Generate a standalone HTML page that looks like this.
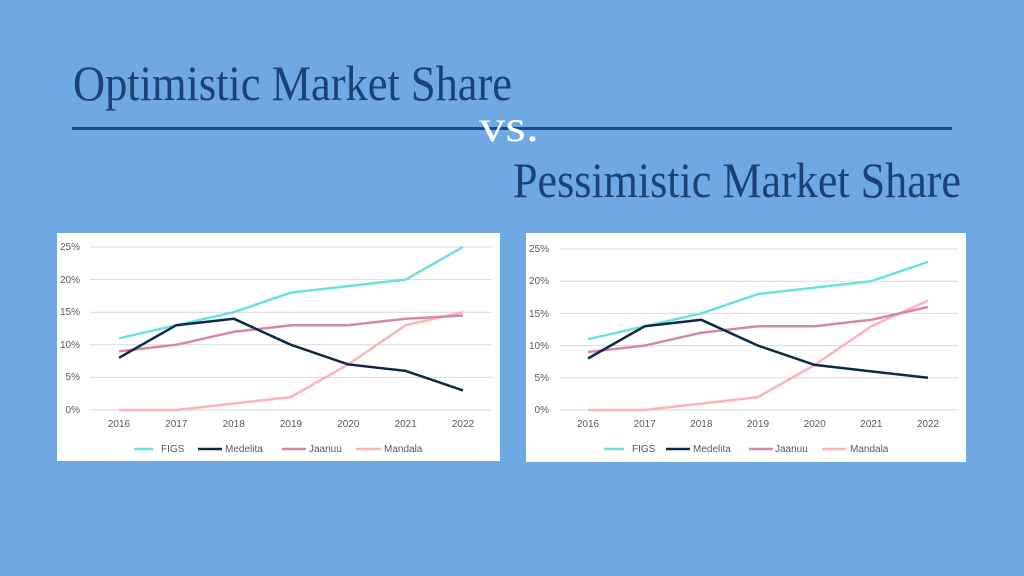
<!DOCTYPE html>
<html><head><meta charset="utf-8"><style>
html,body{margin:0;padding:0;background:#6fa9e4;}
svg{display:block}
</style></head><body>
<svg width="1024" height="576" viewBox="0 0 1024 576" xmlns="http://www.w3.org/2000/svg">
<rect width="1024" height="576" fill="#6fa9e4"/>
<text x="73" y="100" font-family="Liberation Serif, serif" font-size="50" fill="#1a4274" textLength="439" lengthAdjust="spacingAndGlyphs">Optimistic Market Share</text>
<rect x="72" y="127" width="880" height="3" fill="#1b4a80"/>
<text x="479" y="141" font-family="Liberation Serif, serif" font-size="44" fill="#ffffff" textLength="60" lengthAdjust="spacingAndGlyphs">vs.</text>
<text x="513" y="197" font-family="Liberation Serif, serif" font-size="50" fill="#1a4274" textLength="448" lengthAdjust="spacingAndGlyphs">Pessimistic Market Share</text>

<g font-family="Liberation Sans, sans-serif" font-size="10" fill="#595959">
<!-- left chart -->
<rect x="57" y="233" width="443" height="228" fill="#fff"/>
<g stroke="#d9d9d9" stroke-width="1">
<line x1="90" x2="492" y1="247" y2="247"/><line x1="90" x2="492" y1="279.6" y2="279.6"/><line x1="90" x2="492" y1="312.2" y2="312.2"/><line x1="90" x2="492" y1="344.8" y2="344.8"/><line x1="90" x2="492" y1="377.4" y2="377.4"/><line x1="90" x2="492" y1="410" y2="410"/>
</g>
<g text-anchor="end"><text x="80" y="250">25%</text><text x="80" y="283">20%</text><text x="80" y="315">15%</text><text x="80" y="348">10%</text><text x="80" y="380">5%</text><text x="80" y="413">0%</text></g>
<g text-anchor="middle"><text x="119" y="427">2016</text><text x="176.3" y="427">2017</text><text x="233.7" y="427">2018</text><text x="291" y="427">2019</text><text x="348.3" y="427">2020</text><text x="405.7" y="427">2021</text><text x="463" y="427">2022</text></g>
<g fill="none" stroke-width="2.5" stroke-linejoin="round">
<polyline stroke="#6ee0e2" points="119,338.3 176.3,325.2 233.7,312.2 291,292.6 348.3,286.1 405.7,279.6 463,247"/>
<polyline stroke="#ffb3b8" points="119,410 176.3,410 233.7,403.5 291,397 348.3,364.4 405.7,325.2 463,312.2"/>
<polyline stroke="#d38aa7" points="119,351.3 176.3,344.8 233.7,331.8 291,325.2 348.3,325.2 405.7,318.7 463,315.5"/>
<polyline stroke="#0f2a47" points="119,357.8 176.3,325.2 233.7,318.7 291,344.8 348.3,364.4 405.7,370.9 463,390.4"/>
</g>
<g stroke-width="2.5"><line x1="134" x2="153" y1="449" y2="449" stroke="#6ee0e2"/><line x1="198" x2="222" y1="449" y2="449" stroke="#0f2a47"/><line x1="282" x2="306" y1="449" y2="449" stroke="#d38aa7"/><line x1="356" x2="381" y1="449" y2="449" stroke="#ffb3b8"/></g>
<text x="161" y="452">FIGS</text><text x="225" y="452">Medelita</text><text x="309" y="452">Jaanuu</text><text x="384" y="452">Mandala</text>

<!-- right chart -->
<rect x="526" y="233" width="440" height="229" fill="#fff"/>
<g stroke="#d9d9d9" stroke-width="1">
<line x1="560" x2="958" y1="249" y2="249"/><line x1="560" x2="958" y1="281.2" y2="281.2"/><line x1="560" x2="958" y1="313.4" y2="313.4"/><line x1="560" x2="958" y1="345.6" y2="345.6"/><line x1="560" x2="958" y1="377.8" y2="377.8"/><line x1="560" x2="958" y1="410" y2="410"/>
</g>
<g text-anchor="end"><text x="549" y="252">25%</text><text x="549" y="284">20%</text><text x="549" y="317">15%</text><text x="549" y="349">10%</text><text x="549" y="381">5%</text><text x="549" y="413">0%</text></g>
<g text-anchor="middle"><text x="588" y="427">2016</text><text x="644.7" y="427">2017</text><text x="701.3" y="427">2018</text><text x="758" y="427">2019</text><text x="814.7" y="427">2020</text><text x="871.3" y="427">2021</text><text x="928" y="427">2022</text></g>
<g fill="none" stroke-width="2.5" stroke-linejoin="round">
<polyline stroke="#6ee0e2" points="588,339.2 644.7,326.3 701.3,313.4 758,294.1 814.7,287.6 871.3,281.2 928,261.9"/>
<polyline stroke="#ffb3b8" points="588,410 644.7,410 701.3,403.6 758,397.1 814.7,364.9 871.3,326.3 928,300.5"/>
<polyline stroke="#d38aa7" points="588,352 644.7,345.6 701.3,332.7 758,326.3 814.7,326.3 871.3,319.8 928,307"/>
<polyline stroke="#0f2a47" points="588,358.5 644.7,326.3 701.3,319.8 758,345.6 814.7,364.9 871.3,371.4 928,377.8"/>
</g>
<g stroke-width="2.5"><line x1="604" x2="624" y1="449" y2="449" stroke="#6ee0e2"/><line x1="666" x2="690" y1="449" y2="449" stroke="#0f2a47"/><line x1="749" x2="773" y1="449" y2="449" stroke="#d38aa7"/><line x1="822" x2="846" y1="449" y2="449" stroke="#ffb3b8"/></g>
<text x="632" y="452">FIGS</text><text x="693" y="452">Medelita</text><text x="775" y="452">Jaanuu</text><text x="850" y="452">Mandala</text>
</g>
</svg>
</body></html>
